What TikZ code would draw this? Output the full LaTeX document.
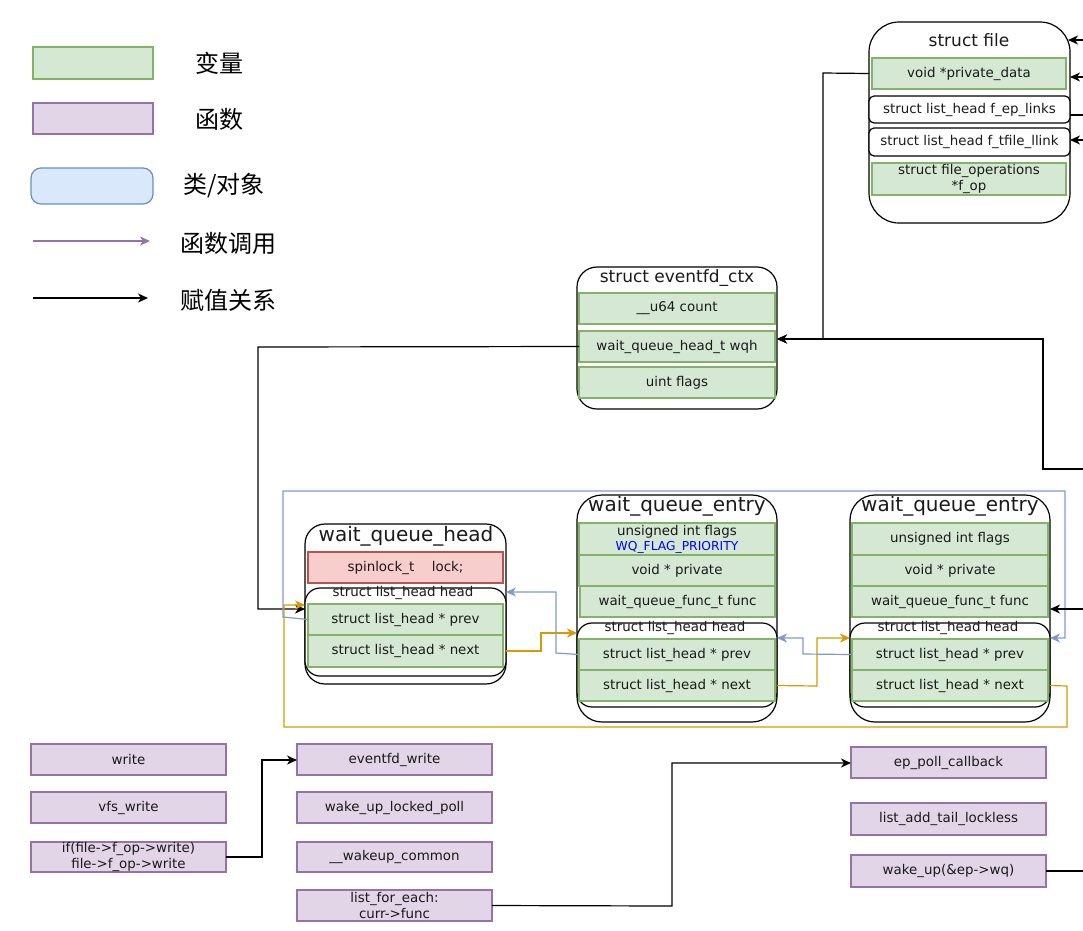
\documentclass[tikz,border=0pt]{standalone}
\usepackage{fontspec}
\setmainfont{DejaVu Sans}
\newfontfamily\cjk{Noto Sans CJK SC}
\usetikzlibrary{arrows.meta}
\definecolor{gf}{HTML}{D5E8D4}
\definecolor{gb}{HTML}{82B366}
\definecolor{pf}{HTML}{E1D5E7}
\definecolor{pb}{HTML}{9673A6}
\definecolor{bf}{HTML}{DAE8FC}
\definecolor{bb}{HTML}{6C8EBF}
\definecolor{rf}{HTML}{F8CECC}
\definecolor{rb}{HTML}{B85450}
\definecolor{orl}{HTML}{D79B00}
\definecolor{lbl}{HTML}{7F9BC8}
\definecolor{txt}{HTML}{1A1A1A}
\newcommand\bx[7]{\node[#1,anchor=north west,minimum width={(#5-#3)*1pt},minimum height={(#6-#4)*1pt}] (#2) at (#3,#4) {#7};}
\tikzset{
  base/.style={inner sep=0pt,outer sep=0pt,line width=1.2pt,align=center,text=txt},
  fld/.style={base,draw=gb,fill=gf,font=\fontsize{13.4}{16}\selectfont},
  fun/.style={base,draw=pb,fill=pf,font=\fontsize{13.4}{16}\selectfont},
  red/.style={base,draw=rb,fill=rf,font=\fontsize{13.4}{16}\selectfont},
  wbox/.style={base,draw=black,fill=white,rounded corners=5pt,font=\fontsize{13.4}{16}\selectfont},
  obox/.style={base,draw=black,fill=white},
  ttl/.style={inner sep=0pt,text=txt,font=\fontsize{17}{18}\selectfont},
  bigttl/.style={inner sep=0pt,text=txt,font=\fontsize{20}{22}\selectfont},
  smttl/.style={inner sep=0pt,text=txt,font=\fontsize{13.4}{14}\selectfont},
  leg/.style={inner sep=0pt,font=\cjk\fontsize{24}{26}\selectfont},
  arr/.style={line width=1.2pt,-{Stealth[length=10pt,width=9pt,inset=3pt]}},
  ln/.style={line width=1.2pt},
}
\begin{document}
\begin{tikzpicture}[x=1pt,y=-1pt]
\useasboundingbox (0,0) rectangle (1083,930);
% legend
\bx{fld}{lg1}{33}{47}{153}{79}{}
\node[leg] (lgt1) at (219,63) {变量};
\bx{fun}{lg2}{33}{103}{153}{134}{}
\node[leg] (lgt2) at (219,119) {函数};
\bx{base,draw=bb,fill=bf,rounded corners=10pt}{lg3}{31}{168}{153}{204}{}
\node[leg] (lgt3) at (224,186) {类/对象};
\coordinate (la1) at (33,241); \coordinate (la2) at (150,241);
\draw[arr,draw=pb,line width=1.8pt] (la1) -- (la2);
\node[leg] (lgt4) at (228,243) {函数调用};
\coordinate (lb1) at (33,298); \coordinate (lb2) at (148,298);
\draw[arr,line width=1.8pt] (lb1) -- (lb2);
\node[leg] (lgt5) at (228,300) {赋值关系};
% struct file
\bx{obox,rounded corners=30pt}{file}{869}{22}{1070}{223}{}
\node[ttl] (filet) at (969,40) {struct file};
\bx{fld}{pd}{872}{58}{1066}{89}{void *private\_data}
\bx{wbox}{eplinks}{869}{96}{1070}{123}{struct list\_head f\_ep\_links}
\bx{wbox}{tfile}{869}{128}{1070}{156}{struct list\_head f\_tfile\_llink}
\bx{fld}{fop}{872}{163}{1066}{195}{struct file\_operations\\*f\_op}
\coordinate (e1) at (1083,40);
\coordinate (e2) at (1083,77);
\coordinate (e3) at (1083,140);
\coordinate (e4) at (1083,115);
\draw[arr] (e1) -- (1068,40);
\draw[arr] (e2) -- (file.east |- e2);
\draw[arr] (e3) -- (tfile.east |- e3);
\draw[ln] (eplinks.east |- e4) -- (e4);
% eventfd_ctx
\bx{obox,rounded corners=20pt}{ev}{577}{267}{777}{409}{}
\node[ttl] (evt) at (677,278) {struct eventfd\_ctx};
\bx{fld}{cnt}{579}{293}{775}{324}{\_\_u64 count}
\bx{fld}{wqh}{579}{331}{775}{362}{wait\_queue\_head\_t wqh}
\bx{fld}{flg}{579}{367}{775}{398}{uint flags}
\coordinate (e5) at (1083,469);
\draw[arr] (file.west |- pd) -- (823,73) -- (823,339) -- (ev.east |- 0,339);
\draw[arr] (e5) -- (1043,469) -- (1043,339) -- (ev.east |- 0,339);
% wait_queue_head
\bx{obox,rounded corners=20pt}{wqhd}{305}{524}{506}{684}{}
\node[bigttl] (wqhdt) at (406,536) {wait\_queue\_head};
\bx{red}{lock}{308}{552}{503}{583}{spinlock\_t \quad lock;}
\bx{obox,rounded corners=15pt}{lh0}{305}{588}{506}{676}{}
\node[smttl] (lh0t) at (403,593) {struct list\_head head};
\bx{fld}{prev0}{308}{604}{503}{635}{struct list\_head * prev}
\bx{fld}{next0}{308}{635}{503}{667}{struct list\_head * next}
% entry 1
\bx{obox,rounded corners=25pt}{en1}{577}{495}{777}{722}{}
\node[bigttl] (en1t) at (677,506) {wait\_queue\_entry};
\bx{fld}{flags1}{579}{523}{775}{555}{}
\node[inner sep=0pt,text=txt,font=\fontsize{13.4}{14}\selectfont] (fl1a) at (677,532) {unsigned int flags};
\node[inner sep=0pt,font=\fontsize{12.3}{13}\selectfont,text=blue] (fl1b) at (677,547) {WQ\_FLAG\_PRIORITY};
\bx{fld}{priv1}{579}{555}{775}{586}{void * private}
\bx{fld}{func1}{580}{586}{775}{617}{wait\_queue\_func\_t func}
\bx{obox,rounded corners=15pt}{lh1}{577}{623}{777}{707}{}
\node[smttl] (lh1t) at (675,628) {struct list\_head head};
\bx{fld}{prev1}{579}{639}{775}{670}{struct list\_head * prev}
\bx{fld}{next1}{579}{670}{775}{701}{struct list\_head * next}
% entry 2
\bx{obox,rounded corners=25pt}{en2}{850}{495}{1050}{722}{}
\node[bigttl] (en2t) at (950,506) {wait\_queue\_entry};
\bx{fld}{flags2}{852}{523}{1048}{555}{unsigned int flags}
\bx{fld}{priv2}{852}{555}{1048}{586}{void * private}
\bx{fld}{func2}{852}{586}{1048}{617}{wait\_queue\_func\_t func}
\bx{obox,rounded corners=15pt}{lh2}{850}{623}{1050}{707}{}
\node[smttl] (lh2t) at (948,628) {struct list\_head head};
\bx{fld}{prev2}{852}{639}{1048}{670}{struct list\_head * prev}
\bx{fld}{next2}{852}{670}{1048}{701}{struct list\_head * next}
% list connectors
\draw[arr] (wqh.west) -- (258,347) -- (258,609) -- (wqhd.west |- 0,609);
\draw[arr,draw=orl] (lh2.east |- next2) -- (1067,686) -- (1067,727) -- (284,727) -- (284,605) -- (lh0.west |- 0,605);
\draw[arr,draw=lbl] (prev0.west) -- (283,617) -- (283,491) -- (1065,491) -- (1065,638) -- (lh2.east |- 0,638);
\draw[arr,draw=orl] (lh0.east |- next0) -- (541,651) -- (541,633) -- (lh1.west |- 0,633);
\draw[arr,draw=lbl] (prev1.west) -- (556,653) -- (556,592) -- (lh0.east |- 0,592);
\draw[arr,draw=orl] (lh1.east |- next1) -- (817,686) -- (817,638) -- (lh2.west |- 0,638);
\draw[arr,draw=lbl] (prev2.west) -- (803,654) -- (803,638) -- (lh1.east |- 0,638);
\coordinate (e6) at (1083,609);
\draw[arr] (e6) -- (en2.east |- e6);
% functions
\bx{fun}{fw}{31}{744}{226}{775}{write}
\bx{fun}{fvfs}{31}{792}{226}{823}{vfs\_write}
\bx{fun}{fif}{31}{842}{226}{872}{if(file->f\_op->write)\\file->f\_op->write}
\bx{fun}{fevw}{297}{744}{492}{775}{eventfd\_write}
\bx{fun}{fwul}{297}{792}{492}{823}{wake\_up\_locked\_poll}
\bx{fun}{fwc}{297}{842}{492}{872}{\_\_wakeup\_common}
\bx{fun}{fle}{297}{890}{492}{921}{list\_for\_each:\\curr->func}
\bx{fun}{fepc}{851}{747}{1046}{778}{ep\_poll\_callback}
\bx{fun}{flat}{851}{803}{1046}{835}{list\_add\_tail\_lockless}
\bx{fun}{fwu}{851}{855}{1046}{887}{wake\_up(\&ep->wq)}
\draw[arr] (fif.east) -- (262,857) -- (262,760) -- (fevw.west |- 0,760);
\draw[arr] (fle.east) -- (672,906) -- (672,763) -- (fepc.west |- 0,763);
\coordinate (e7) at (1083,871);
\draw[ln] (fwu.east) -- (e7);
\end{tikzpicture}
\end{document}
